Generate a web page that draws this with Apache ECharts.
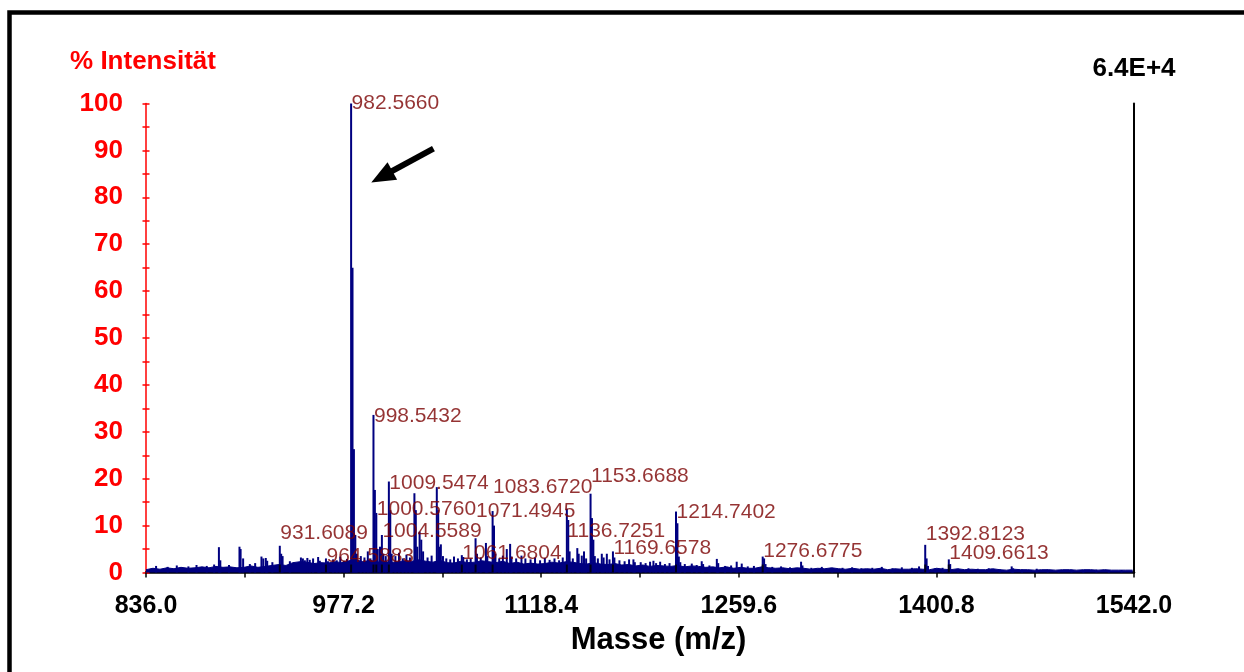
<!DOCTYPE html>
<html><head><meta charset="utf-8">
<script src="https://cdn.jsdelivr.net/npm/echarts@6/dist/echarts.min.js"></script>
<style>html,body{margin:0;padding:0;background:#fff}#c{width:1244px;height:672px}</style>
</head><body><div id="c"></div>
<script>
const FONT = '"Liberation Sans", Arial, Helvetica, sans-serif';

// x tick labels (m/z) and y tick labels (% intensity)
const xTickLabels = ['836.0', '977.2', '1118.4', '1259.6', '1400.8', '1542.0'];
const yTickLabels = [0, 10, 20, 30, 40, 50, 60, 70, 80, 90, 100];

// noisy baseline, one value every 5 m/z starting at 836
const baselineStart = 836, baselineStep = 5;
const baseline = [
  0.6,0.9,0.7,1.0,0.8,1.1,0.9,1.0,1.2,
  1.0,1.3,1.1,1.2,1.0,1.1,1.4,1.1,1.3,1.5,
  1.7,1.5,2.1,2.3,2.2,1.9,2.1,2.0,2.3,2.1,
  2.5,2.7,2.3,2.6,2.2,2.4,2.1,2.3,2.5,2.4,
  2.7,2.4,2.2,2.6,2.1,2.0,2.4,2.1,2.2,2.5,
  2.3,2.1,2.4,1.9,2.2,1.8,2.0,1.8,1.9,2.2,
  2.0,2.3,2.2,1.9,1.8,2.1,1.8,1.7,1.9,1.6,
  1.7,1.4,1.6,1.3,1.5,1.4,1.3,1.5,1.2,1.4,
  1.3,1.1,1.2,1.0,1.2,0.9,1.1,0.9,0.9,1.2,
  1.0,0.9,1.0,0.8,1.0,0.9,0.7,0.9,0.8,1.0,
  0.8,0.7,0.9,0.7,0.8,0.7,0.9,0.6,0.8,0.7,
  0.7,0.8,0.7,0.6,0.9,0.7,0.6,0.8,0.6,0.7,
  0.6,0.6,0.8,0.6,0.5,0.7,0.6,0.6,0.5,0.6,
  0.6,0.5,0.6,0.6,0.5,0.6,0.6,0.5,0.6,0.5,
  0.5,0.5,0.5
];

// peaks: [m/z, % intensity]
const peaks = [
  [843.2,1.4],[851.5,1.2],[858.0,1.5],[866.3,1.3],[872.1,1.6],[879.4,1.4],[884.7,1.7],[888.1,5.4],[889.1,2.6],[895.3,1.6],
  [902.8,5.5],[903.6,5.0],[905.4,3.0],[910.2,1.8],[914.0,2.0],[918.5,3.4],[919.8,3.0],[921.6,3.1],[922.6,2.5],[926.3,2.2],
  [931.6089,5.7],[932.6,4.0],[933.6,3.5],[938.8,2.4],[946.7,3.2],[948.1,3.0],[949.5,2.6],[951.3,3.1],[953.0,2.7],[955.4,3.0],
  [959.0,3.3],[960.2,2.5],[964.5883,3.0],[966.0,2.4],[969.7,2.8],[972.3,2.6],[974.8,3.4],[977.5,2.5],[979.6,2.9],
  [982.566,100],[983.57,65],[984.57,26.3],[985.57,8],[986.6,4],[989.5,3.5],[992.1,3.2],[994.5,4.5],[996.4,3.0],
  [998.5432,33.6],[999.55,17.6],[1000.576,12.7],[1001.58,5],[1003.2,5.5],[1004.5589,8.0],[1005.6,4.0],[1007.3,3.5],
  [1009.5474,19.4],[1010.55,13.3],[1011.55,4],[1014.2,3.5],[1016.8,4.2],[1019.5,3.0],[1022.1,3.8],[1024.6,3.2],
  [1027.8,16.9],[1028.8,13.3],[1029.8,5.5],[1031.5,8.7],[1032.7,7.0],[1034.0,4.5],[1037.2,3.2],[1040.1,3.6],
  [1043.8,18.2],[1044.8,13.3],[1045.8,5.5],[1046.7,6.0],[1048.2,3.5],[1050.6,3.0],[1053.4,2.8],[1056.1,3.4],[1058.9,3.0],
  [1061.6804,3.7],[1062.7,3.3],[1065.3,2.8],[1068.0,3.0],
  [1071.4945,7.3],[1072.5,4.0],[1075.2,3.2],[1078.9,6.3],[1079.9,3.5],
  [1083.672,13.1],[1084.67,10],[1085.7,4.0],[1088.4,3.0],[1091.0,3.6],[1093.8,5.0],[1096.2,6.1],[1097.2,3.4],[1100.5,3.0],
  [1104.3,3.6],[1107.1,3.0],[1110.8,2.8],[1114.0,3.2],[1117.6,2.6],[1121.0,3.1],[1124.4,2.7],[1127.9,3.0],[1131.2,2.6],[1133.8,3.2],
  [1136.7251,13.6],[1137.73,11.2],[1138.7,4.5],[1141.0,3.0],[1144.2,5.2],[1145.2,4.0],[1147.4,3.6],[1149.0,4.5],[1150.5,3.0],
  [1153.6688,16.8],[1154.67,11.6],[1155.67,7],[1156.7,3.5],[1158.9,3.0],[1161.7,4.0],[1163.0,3.2],[1165.3,4.0],[1167.2,2.8],
  [1169.6578,4.5],[1170.7,3.2],[1174.3,2.6],[1178.0,2.4],[1181.2,2.8],[1184.3,2.8],[1185.3,2.2],[1189.5,2.2],[1193.0,2.0],
  [1196.2,2.3],[1198.6,2.5],[1200.5,2.0],[1203.4,2.3],[1206.8,1.8],[1210.1,2.0],
  [1214.7402,13],[1215.74,10.5],[1216.74,3.4],[1217.8,2.2],[1221.0,1.8],[1226.0,1.9],[1229.5,1.6],[1233.1,2.4],[1234.1,1.8],
  [1238.6,1.5],[1243.9,2.9],[1244.9,2.0],[1249.8,1.4],[1254.1,1.5],[1258.1,2.3],[1261.7,1.9],[1266.0,1.3],[1270.4,1.4],
  [1276.6775,3.4],[1277.68,3.0],[1278.7,1.8],[1283.5,1.2],[1289.8,1.3],[1296.2,1.1],[1304.1,2.3],[1305.1,1.5],[1311.4,1.0],
  [1318.9,1.2],[1326.3,0.9],[1333.7,1.0],[1340.5,1.1],[1347.2,0.9],[1355.0,1.0],[1361.8,1.2],[1369.4,0.9],[1376.1,1.1],
  [1383.3,1.0],[1388.4,1.3],
  [1392.8123,5.9],[1393.81,3.0],[1394.8,1.4],[1400.1,0.9],[1405.2,1.0],
  [1409.6613,2.8],[1410.66,1.8],[1416.3,0.8],[1423.7,0.9],[1430.4,0.8],[1438.2,0.9],[1446.0,0.7],[1454.6,1.3],[1455.6,0.9],
  [1462.0,0.6],[1472.5,0.8],[1480.3,0.6],[1488.1,0.5],[1497.4,0.6],[1505.8,0.5],[1515.2,0.6],[1524.0,0.5],[1533.1,0.5]
];

// annotated peaks: [label text (m/z), level of label in %]
const peakLabels = [
  ['982.5660', 100], ['998.5432', 33.4], ['1009.5474', 19.1], ['1000.5760', 13.4],
  ['1004.5589', 8.8], ['931.6089', 8.4], ['964.5883', 3.5], ['1071.4945', 13.0],
  ['1083.6720', 18.2], ['1061.6804', 4.1], ['1153.6688', 20.6], ['1136.7251', 8.9],
  ['1169.6578', 5.2], ['1214.7402', 12.8], ['1276.6775', 4.6], ['1392.8123', 8.2],
  ['1409.6613', 4.1]
];

// arrow annotation: [m/z, %] tail and head
const arrowFrom = [1041.4, 90.4];
const arrowTo = [1004.5, 84.4];

const chart = echarts.init(document.getElementById('c'), null, { renderer: 'canvas' });

const baselineData = baseline.map((v, i) => [baselineStart + i * baselineStep, v]);
const xMin = parseFloat(xTickLabels[0]);
const xMax = parseFloat(xTickLabels[xTickLabels.length - 1]);
const xInterval = 141.2;

const option = {
  animation: false,
  backgroundColor: '#ffffff',
  grid: { left: 146, right: 110, top: 103.5, bottom: 99.5, containLabel: false },
  graphic: [{
    type: 'rect', silent: true,
    shape: { x: 9.5, y: 12.5, width: 1400, height: 900 },
    style: { fill: 'none', stroke: '#000', lineWidth: 4.5 }
  }],
  xAxis: {
    type: 'value', min: xMin, max: xMax, interval: xInterval,
    name: 'Masse (m/z)', nameLocation: 'middle', nameGap: 52,
    nameTextStyle: { fontFamily: FONT, fontWeight: 'bold', fontSize: 31, color: '#000', padding: [0, 0, 0, 37] },
    axisLine: { show: true, onZero: false, lineStyle: { color: '#000', width: 2.5 } },
    axisTick: { show: true, inside: false, length: 5, lineStyle: { color: '#000', width: 1.5 } },
    minorTick: { show: true, splitNumber: 2, length: 5, lineStyle: { color: '#000', width: 1.5 } },
    splitLine: { show: false }, minorSplitLine: { show: false },
    axisLabel: {
      margin: 21, fontFamily: FONT, fontWeight: 'bold', fontSize: 25, color: '#000',
      formatter: (v) => v.toFixed(1)
    }
  },
  yAxis: [{
    type: 'value', position: 'left', min: yTickLabels[0], max: yTickLabels[yTickLabels.length - 1], interval: 10,
    name: '% Intensität', nameLocation: 'end', nameGap: 29,
    nameTextStyle: { fontFamily: FONT, fontWeight: 'bold', fontSize: 26, color: '#ff0000', align: 'center', padding: [0, 6, 0, 0] },
    axisLine: { show: true, lineStyle: { color: '#ff0000', width: 1.5 } },
    axisTick: { show: true, inside: false, length: 3.5, lineStyle: { color: '#ff0000', width: 1.5 } },
    minorTick: { show: true, splitNumber: 2, length: 3.5, lineStyle: { color: '#ff0000', width: 1.5 } },
    splitLine: { show: false }, minorSplitLine: { show: false },
    axisLabel: { margin: 23, fontFamily: FONT, fontWeight: 'bold', fontSize: 26, color: '#ff0000' }
  }, {
    type: 'value', position: 'left', min: 0, max: 100, interval: 10,
    axisLine: { show: false },
    axisTick: { show: true, inside: true, length: 3.5, lineStyle: { color: '#ff0000', width: 1.5 } },
    minorTick: { show: true, splitNumber: 2, length: 3.5, lineStyle: { color: '#ff0000', width: 1.5 } },
    splitLine: { show: false }, axisLabel: { show: false }
  }, {
    type: 'value', position: 'right', min: 0, max: 100,
    name: '6.4E+4', nameLocation: 'end', nameGap: 22,
    nameTextStyle: { fontFamily: FONT, fontWeight: 'bold', fontSize: 26, color: '#000', align: 'center' },
    axisLine: { show: true, lineStyle: { color: '#000', width: 2 } },
    axisTick: { show: false }, splitLine: { show: false }, axisLabel: { show: false }
  }],
  series: [{
    type: 'line', name: 'baseline', data: baselineData, symbol: 'none', silent: true,
    lineStyle: { color: '#000080', width: 1 },
    areaStyle: { color: '#000080', opacity: 1 }, z: 2
  }, {
    type: 'bar', name: 'peaks', data: peaks, barWidth: 2, silent: true,
    itemStyle: { color: '#000080' }, z: 3
  }, {
    type: 'scatter', name: 'markers', silent: true,
    data: peakLabels.map(p => [parseFloat(p[0]), 0.85]),
    symbol: 'rect', symbolSize: [2, 8], itemStyle: { color: '#000' }, z: 4
  }, {
    type: 'scatter', name: 'labels', silent: true,
    data: peakLabels.map(p => ({ name: p[0], value: [parseFloat(p[0]), p[1]] })),
    symbolSize: 1, itemStyle: { color: 'rgba(0,0,0,0)' },
    label: {
      show: true, position: 'right', distance: 0, formatter: '{b}',
      fontFamily: FONT, fontSize: 21, color: '#7a0000'
    },
    z: 5,
    markLine: {
      silent: true, symbol: ['none', 'triangle'], symbolSize: [20, 24],
      lineStyle: { color: '#000', width: 6, type: 'solid' },
      label: { show: false },
      data: [[{ coord: arrowFrom }, { coord: arrowTo }]]
    }
  }]
};
chart.setOption(option);
</script>
</body></html>
